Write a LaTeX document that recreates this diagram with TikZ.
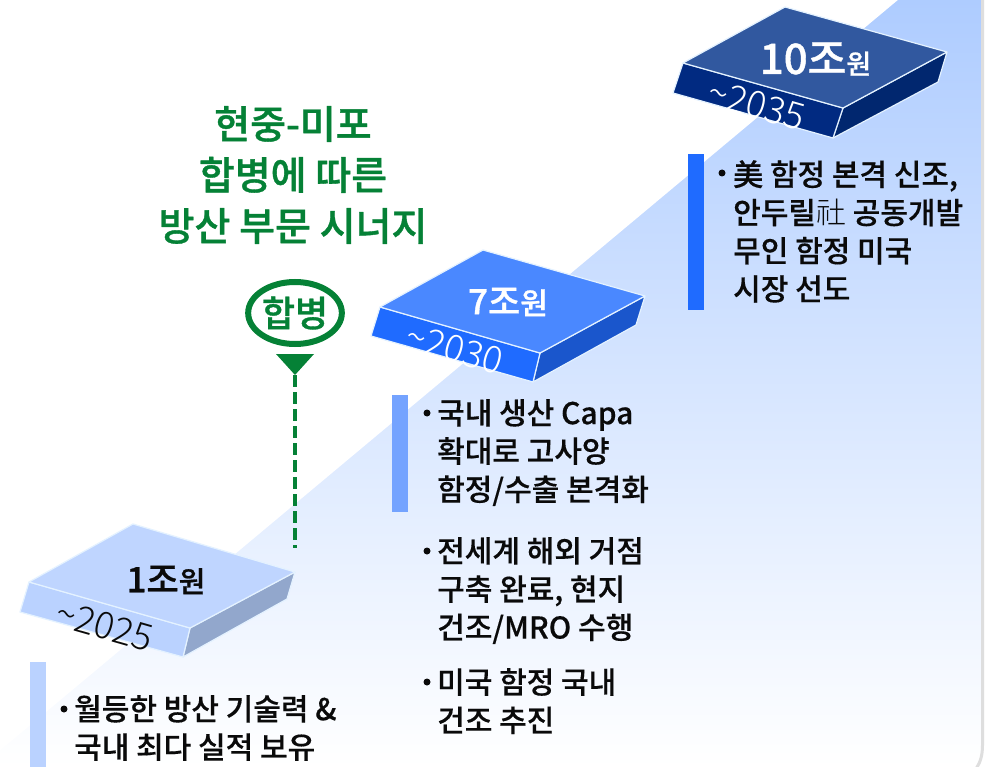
\documentclass[tikz,border=0pt]{standalone}
\usepackage{fontspec}
\usetikzlibrary{shapes.geometric}
\setmainfont{Noto Sans CJK KR}
\newfontfamily\medfont[FakeBold=0.35]{Noto Sans CJK KR Medium}
\newfontfamily\semifont[FakeBold=0.9]{Noto Sans CJK KR Medium}
\newfontfamily\lightfont{Noto Sans CJK KR Light}
\definecolor{mygreen}{HTML}{058136}
\definecolor{inkblack}{HTML}{0A0A0A}
\definecolor{edgelight}{HTML}{E4F2FF}
\definecolor{graybar}{HTML}{DEDEDE}
\tikzset{
  x=1pt,y=-1pt,
  slabedge/.style={draw=edgelight,line width=1.2pt,line join=round},
  body/.style={anchor=north west,align=left,inner sep=0pt,font=\medfont\fontsize{30}{38.2}\selectfont,text=inkblack},
  bulletmark/.style={circle,fill=inkblack,inner sep=0pt,minimum size=7pt},
  amount/.style={inner sep=0pt,font=\semifont\fontsize{30}{30}\selectfont},
  year/.style={inner sep=0pt,rotate=-16,font=\lightfont\fontsize{37}{37}\selectfont},
  title/.style={inner sep=0pt,align=center,text=mygreen,font=\semifont\fontsize{39}{51}\selectfont},
}
\begin{document}
\begin{tikzpicture}
\useasboundingbox (0,0) rectangle (987,767);
\fill[white] (0,0) rectangle (987,767);
% backdrop
\shade[top color={rgb,255:red,174;green,204;blue,255},bottom color=white] (0,0) rectangle (982,767);
\fill[white] (-1,-1) -- (899,-1) -- (-21,768) -- cycle;
\fill[white] (983,745) .. controls (983,755) and (981,762) .. (977,768) -- (988,768) -- (988,745) -- cycle;
\draw[graybar,line width=3pt] (982.5,-2) -- (982.5,745) .. controls (982.5,755) and (980.5,762) .. (976.5,768);
% bars
\fill[fill={rgb,255:red,31;green,107;blue,255}] (688,154) rectangle (704,310);
\fill[fill={rgb,255:red,116;green,163;blue,255}] (392,395) rectangle (408,512);
\fill[fill={rgb,255:red,186;green,210;blue,255}] (30,662) rectangle (46,767);
% slab 10
\filldraw[slabedge,fill={rgb,255:red,1;green,39;blue,111}] (843,108) -- (947,52) -- (938,82) -- (833,138) -- cycle;
\filldraw[slabedge,fill={rgb,255:red,1;green,42;blue,129}] (683,63) -- (843,108) -- (833,138) -- (673,93) -- cycle;
\filldraw[slabedge,fill={rgb,255:red,49;green,88;blue,159}] (785,7) -- (947,52) -- (843,108) -- (683,63) -- cycle;
\node[amount,text=white] (a10) at (815.5,59) {\fontsize{42}{42}\selectfont 10조\fontsize{27}{27}\selectfont 원};
\node[year,text=white] (y10) at (757,105) {\textasciitilde 2035};
% slab 7
\filldraw[slabedge,fill={rgb,255:red,26;green,86;blue,204}] (540,353) -- (645,296) -- (636,325) -- (533,382) -- cycle;
\filldraw[slabedge,fill={rgb,255:red,31;green,107;blue,255}] (380,307) -- (540,353) -- (533,382) -- (371,336) -- cycle;
\filldraw[slabedge,fill={rgb,255:red,74;green,136;blue,255}] (483,250) -- (645,296) -- (540,353) -- (380,307) -- cycle;
\node[amount,text=white] (a7) at (508,302) {\fontsize{35}{35}\selectfont 7조\fontsize{30}{30}\selectfont 원};
\node[year,text=white] (y7) at (455,349) {\textasciitilde 2030};
% slab 1
\filldraw[slabedge,fill={rgb,255:red,146;green,167;blue,204}] (190,628) -- (295,572) -- (287,599) -- (183,657) -- cycle;
\filldraw[slabedge,fill={rgb,255:red,186;green,210;blue,255}] (29,582) -- (190,628) -- (183,657) -- (20,612) -- cycle;
\filldraw[slabedge,fill={rgb,255:red,191;green,213;blue,255}] (133,524) -- (295,572) -- (190,628) -- (29,582) -- cycle;
\node[amount,text=inkblack] (a1) at (166,580) {\fontsize{35}{35}\selectfont 1조\fontsize{29}{29}\selectfont 원};
\node[year,text=inkblack] (y1) at (105,626) {\textasciitilde 2025};
% title
\node[title] (ttl) at (293,175) {현중-미포\\합병에 따른\\방산 부문 시너지};
% merge marker
\node[draw=mygreen,line width=6pt,fill=white,ellipse,inner sep=0pt,text=mygreen,font=\semifont\fontsize{36}{36}\selectfont,minimum width=92pt,minimum height=62pt] (merge) at (295,313) {합병};
\coordinate (tl) at (276,354); \coordinate (tr) at (314,354); \coordinate (tt) at (295,375);
\coordinate (dashend) at (295,548);
\fill[mygreen] (tl) -- (tr) -- (tt) -- cycle;
\draw[mygreen,line width=4.5pt,dash pattern=on 12pt off 5pt] (tt) -- (dashend);
% lists
\node[bulletmark] (b10) at (722,173) {};
\node[body] (t10) at (733,160) {美 함정 본격 신조,\\안두릴{\lightfont 社} 공동개발\\무인 함정 미국\\시장 선도};
\node[bulletmark] (b7a) at (427,413) {};
\node[body] (t7a) at (437,399) {국내 생산 Capa\\확대로 고사양\\함정/수출 본격화};
\node[bulletmark] (b7b) at (427,551) {};
\node[body] (t7b) at (437,537) {전세계 해외 거점\\구축 완료, 현지\\건조/MRO 수행};
\node[bulletmark] (b7c) at (427,682) {};
\node[body] (t7c) at (437,668) {미국 함정 국내\\건조 추진};
\node[bulletmark] (b1) at (64,709) {};
\node[body] (t1) at (74,695) {월등한 방산 기술력 \&\\국내 최다 실적 보유};
\end{tikzpicture}
\end{document}
